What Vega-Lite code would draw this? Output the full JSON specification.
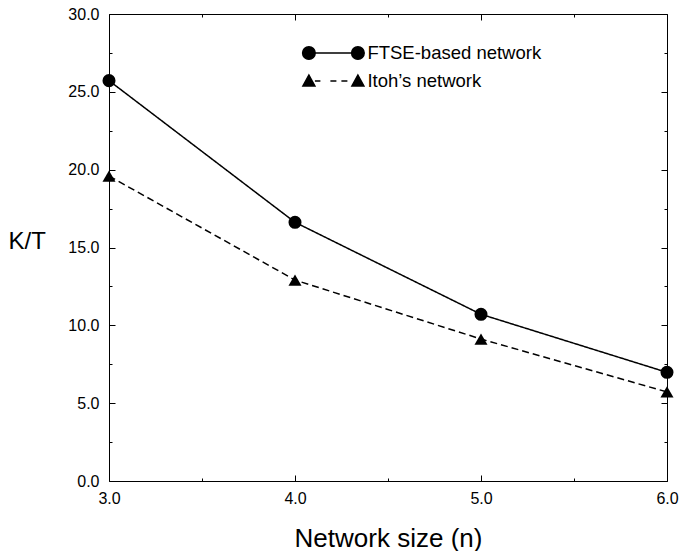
{
  "$schema": "https://vega.github.io/schema/vega-lite/v6.json",
  "width": 558,
  "height": 467,
  "autosize": {"type": "none"},
  "padding": {"left": 109, "top": 14, "right": 13, "bottom": 70},
  "background": "white",
  "config": {
    "view": {"stroke": "#000", "strokeWidth": 1},
    "font": "Liberation Sans",
    "axis": {
      "labelFont": "Liberation Sans",
      "labelFontSize": 16,
      "labelColor": "#000",
      "titleFont": "Liberation Sans",
      "titleColor": "#000",
      "titleFontWeight": "normal",
      "grid": false,
      "domain": false,
      "tickColor": "#000",
      "tickWidth": 1,
      "tickSize": 0,
      "labelFlush": false,
      "labelOverlap": false
    },
    "legend": {
      "orient": "none",
      "legendX": 213.4,
      "legendY": 28,
      "symbolSize": 400,
      "labelOffset": 23,
      "labelFontSize": 18.5,
      "labelFont": "Liberation Sans",
      "labelColor": "#000",
      "labelLimit": 400,
      "rowPadding": 7,
      "padding": 0,
      "symbolOpacity": 1,
      "symbolFillColor": "#000",
      "symbolStrokeColor": "#000",
      "symbolStrokeWidth": 1.5
    }
  },
  "data": {
    "values": [
      {"series": "FTSE-based network", "n": 3, "kt": 25.72},
      {"series": "FTSE-based network", "n": 4, "kt": 16.62},
      {"series": "FTSE-based network", "n": 5, "kt": 10.71},
      {"series": "FTSE-based network", "n": 6, "kt": 6.98},
      {"series": "Itoh’s network", "n": 3, "kt": 19.59},
      {"series": "Itoh’s network", "n": 4, "kt": 12.91},
      {"series": "Itoh’s network", "n": 5, "kt": 9.12},
      {"series": "Itoh’s network", "n": 6, "kt": 5.72}
    ]
  },
  "resolve": {"scale": {"shape": "independent"}},
  "layer": [
    {
      "mark": {"type": "line", "color": "#000", "strokeWidth": 1.5},
      "encoding": {
        "x": {
          "field": "n", "type": "quantitative",
          "scale": {"domain": [3, 6], "nice": false, "zero": false},
          "axis": {
            "orient": "bottom",
            "values": [3, 3.5, 4, 4.5, 5, 5.5, 6],
            "labelExpr": "datum.value % 1 === 0 ? format(datum.value, '.1f') : ''",
            "labelPadding": 9,
            "title": "Network size (n)",
            "titleFontSize": 26,
            "titleX": 279,
            "titleY": 65,
            "titleAlign": "center",
            "titleBaseline": "alphabetic",
            "encoding": {"ticks": {"y2": {"value": {"expr": "datum.value % 1 === 0 ? -6 : -3"}}}}
          }
        },
        "y": {
          "field": "kt", "type": "quantitative",
          "scale": {"domain": [0, 30], "nice": false},
          "axis": {
            "orient": "left",
            "values": [0, 2.5, 5, 7.5, 10, 12.5, 15, 17.5, 20, 22.5, 25, 27.5, 30],
            "labelExpr": "datum.value % 5 === 0 ? format(datum.value, '.1f') : ''",
            "labelPadding": 10,
            "title": "K/T",
            "titleAngle": 0,
            "titleFontSize": 24,
            "titleX": -101,
            "titleY": 234.3,
            "titleAlign": "left",
            "titleBaseline": "alphabetic",
            "encoding": {"ticks": {"x2": {"value": {"expr": "datum.value % 5 === 0 ? 6 : 3"}}}}
          }
        },
        "strokeDash": {
          "field": "series", "type": "nominal",
          "scale": {"range": [[1, 0], [7, 4]]},
          "legend": null
        }
      }
    },
    {
      "mark": {"type": "point", "filled": true, "opacity": 1, "color": "#000", "size": 170},
      "encoding": {
        "x": {
          "field": "n", "type": "quantitative",
          "scale": {"domain": [3, 6], "nice": false, "zero": false},
          "axis": {
            "orient": "top",
            "values": [3, 3.5, 4, 4.5, 5, 5.5, 6],
            "labels": false,
            "title": null,
            "encoding": {"ticks": {"y2": {"value": {"expr": "datum.value % 1 === 0 ? 6 : 3"}}}}
          }
        },
        "y": {
          "field": "kt", "type": "quantitative",
          "scale": {"domain": [0, 30], "nice": false},
          "axis": {
            "orient": "right",
            "values": [0, 2.5, 5, 7.5, 10, 12.5, 15, 17.5, 20, 22.5, 25, 27.5, 30],
            "labels": false,
            "title": null,
            "encoding": {"ticks": {"x2": {"value": {"expr": "datum.value % 5 === 0 ? -6 : -3"}}}}
          }
        },
        "shape": {
          "field": "series", "type": "nominal",
          "scale": {"range": ["circle", "triangle-up"]},
          "legend": null
        }
      }
    },
    {
      "mark": {"type": "point", "filled": true, "opacity": 0, "color": "#000", "stroke": "#000"},
      "encoding": {
        "x": {"field": "n", "type": "quantitative", "scale": {"domain": [3, 6], "nice": false, "zero": false}, "axis": null},
        "y": {"field": "kt", "type": "quantitative", "scale": {"domain": [0, 30], "nice": false}, "axis": null},
        "shape": {
          "field": "series", "type": "nominal",
          "scale": {"range": [
            "M-2.45,0L2.45,0M-3.08,0C-3.08,-0.348,-2.798,-0.63,-2.45,-0.63C-2.102,-0.63,-1.82,-0.348,-1.82,0C-1.82,0.348,-2.102,0.63,-2.45,0.63C-2.798,0.63,-3.08,0.348,-3.08,0ZM1.82,0C1.82,-0.348,2.102,-0.63,2.45,-0.63C2.798,-0.63,3.08,-0.348,3.08,0C3.08,0.348,2.798,0.63,2.45,0.63C2.102,0.63,1.82,0.348,1.82,0Z",
            "M-1.85,0L-1.3,0M-0.3,0L0.3,0M0.8,0L1.4,0M-2.45,-0.6L-1.85,0.5L-3.05,0.5ZM2.45,-0.6L3.05,0.5L1.85,0.5Z"
          ]},
          "legend": {
            "title": null,
            "encoding": {
              "symbols": {
                "fill": {"value": "#000"},
                "stroke": {"value": "#000"},
                "strokeWidth": {"value": 1.5},
                "opacity": {"value": 1}
              }
            }
          }
        }
      }
    }
  ]
}
